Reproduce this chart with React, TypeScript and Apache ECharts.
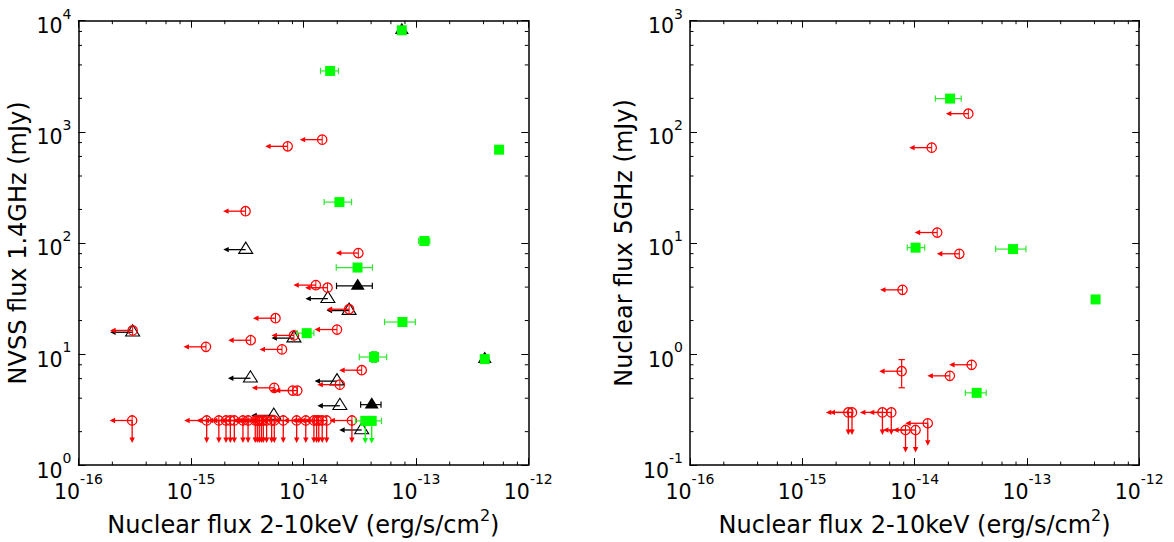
import React, { useEffect, useRef } from 'react';
import * as echarts from 'echarts';

// ---------------- Axis decades (tick labels are 10^exp) ----------------
const xDecadeExps = [-16, -15, -14, -13, -12];
const nvssDecadeExps = [0, 1, 2, 3, 4];
const c5DecadeExps = [-1, 0, 1, 2, 3];
const minorSteps = [2, 4, 6, 8];

// ---------------- Left panel: NVSS 1.4 GHz flux (mJy) ----------------
// green filled squares (detections)
const nvssSqX = [7.5e-14, 1.73e-14, 5.5e-13, 2.09e-14, 1.19e-13, 3.03e-14, 7.6e-14, 1.07e-14, 4.25e-14, 4.1e-13];
const nvssSqY = [8200, 3530, 690, 233, 104, 60, 19.4, 15.4, 9.4, 9.0];
const nvssSqXLo = [null, 1.42e-14, null, 1.53e-14, 1.06e-13, 1.96e-14, 5.27e-14, 8.8e-15, 3.14e-14, null];
const nvssSqXHi = [null, 2.05e-14, null, 2.68e-14, 1.33e-13, 4.11e-14, 9.9e-14, 1.24e-14, 5.5e-14, null];
const nvssSqYLo = [null, null, null, null, null, null, null, null, 8.4, null];
const nvssSqYHi = [null, null, null, null, null, null, null, null, 10.5, null];
// green squares, radio upper limits
const nvssSqUlX = [3.55e-14, 4.05e-14];
const nvssSqUlY = [2.5, 2.5];
const nvssSqUlXLo = [2.9e-14, 3.3e-14];
const nvssSqUlXHi = [4.3e-14, 4.95e-14];
// black filled triangles
const nvssTriX = [7.5e-14, 3.04e-14, 4.05e-14, 4.1e-13];
const nvssTriY = [8200, 41, 3.5, 9.0];
const nvssTriXLo = [null, 1.97e-14, 3.23e-14, null];
const nvssTriXHi = [null, 4.1e-14, 4.9e-14, null];
// black open triangles (X-ray upper limits)
const nvssOpenTriX = [3.07e-15, 1.65e-14, 2.55e-14, 3.03e-16, 8.24e-15, 3.38e-15, 1.99e-14, 2.11e-14, 5.45e-15, 3.3e-14];
const nvssOpenTriY = [87, 31.5, 24.6, 15.7, 13.9, 6.05, 5.7, 3.42, 2.8, 2.07];
// red open circles (X-ray upper limits)
const nvssCircX = [1.47e-14, 7.25e-15, 3.06e-15, 3.08e-14, 1.29e-14, 1.64e-14, 2.55e-14, 5.65e-15, 3.03e-16, 1.99e-14, 8.24e-15, 3.4e-15, 1.36e-15, 6.45e-15, 3.3e-14, 2.11e-14, 5.5e-15, 8.04e-15, 8.83e-15];
const nvssCircY = [850, 740, 193, 81, 41.7, 39.5, 25.3, 21, 16.3, 16.6, 14.7, 13.3, 11.6, 11.0, 7.15, 5.3, 4.96, 4.69, 4.69];
// red open circles (upper limits on both axes)
const nvssCircUlX = [3.0e-16, 1.38e-15, 1.77e-15, 2.05e-15, 2.24e-15, 2.43e-15, 2.9e-15, 3.22e-15, 3.73e-15, 3.89e-15, 4.05e-15, 4.23e-15, 4.4e-15, 4.71e-15, 5.22e-15, 5.51e-15, 6.62e-15, 8.71e-15, 1.05e-14, 1.24e-14, 1.31e-14, 1.37e-14, 1.47e-14, 1.61e-14, 2.7e-14];
const nvssCircUlY = [2.52, 2.52, 2.52, 2.52, 2.52, 2.52, 2.52, 2.52, 2.52, 2.52, 2.52, 2.52, 2.52, 2.52, 2.52, 2.52, 2.52, 2.52, 2.52, 2.52, 2.52, 2.52, 2.52, 2.52, 2.52];

// ---------------- Right panel: nuclear 5 GHz flux (mJy) ----------------
const c5SqX = [2.07e-14, 1.02e-14, 7.53e-14, 4.09e-13, 3.57e-14];
const c5SqY = [199, 9.06, 8.8, 3.1, 0.447];
const c5SqXLo = [1.53e-14, 8.6e-15, 5.27e-14, null, 2.83e-14];
const c5SqXHi = [2.6e-14, 1.23e-14, 9.8e-14, null, 4.34e-14];
const c5CircX = [3.01e-14, 1.42e-14, 1.59e-14, 2.5e-14, 7.8e-15, 3.22e-14, 7.67e-15, 2.06e-14];
const c5CircY = [145.6, 72, 12.4, 7.98, 3.78, 0.80, 0.70, 0.636];
const c5CircYLo = [null, null, null, null, null, null, 0.497, null];
const c5CircYHi = [null, null, null, null, null, null, 0.89, null];
const c5CircUlX = [2.57e-15, 2.77e-15, 5.17e-15, 6.2e-15, 1.31e-14, 8.3e-15, 1.02e-14];
const c5CircUlY = [0.298, 0.298, 0.298, 0.298, 0.238, 0.207, 0.207];

// ---------------- Styling ----------------
const FONT = 'DejaVu Sans';
const RED = '#ff0000';
const GREEN = '#00ff00';
const GREEN_ERR = '#2ee82e';
const BLACK = '#000000';
const ARROW = 22.5;
const HEAD = 5.5;
const HEAD_W = 2.7;
const CAP = 3.2;
const MAJOR = 7;
const MINOR = 3.5;
const SQ = 10;

type Marker = 'square' | 'circle' | 'triOpen' | 'triFilled';
interface MarkSpec { marker: Marker; color: string; errColor: string; left?: boolean; down?: boolean; }

function rows(xs: number[], ys: number[], xlo?: (number | null)[], xhi?: (number | null)[], ylo?: (number | null)[], yhi?: (number | null)[]) {
  return xs.map((x, i) => [
    x, ys[i],
    (xlo && xlo[i]) ?? x, (xhi && xhi[i]) ?? x,
    (ylo && ylo[i]) ?? ys[i], (yhi && yhi[i]) ?? ys[i],
  ]);
}

function seg(x1: number, y1: number, x2: number, y2: number, color: string, lw = 1.2) {
  return { type: 'line', shape: { x1, y1, x2, y2 }, style: { stroke: color, lineWidth: lw, fill: null } };
}

function makeRender(s: MarkSpec) {
  return (_p: any, api: any) => {
    const x = api.value(0), y = api.value(1);
    const c = api.coord([x, y]);
    const cx = c[0], cy = c[1];
    const ch: any[] = [];
    const xlo = api.value(2), xhi = api.value(3), ylo = api.value(4), yhi = api.value(5);
    if (xlo < xhi) {
      const a = api.coord([xlo, y])[0], b = api.coord([xhi, y])[0];
      ch.push(seg(a, cy, b, cy, s.errColor), seg(a, cy - CAP, a, cy + CAP, s.errColor), seg(b, cy - CAP, b, cy + CAP, s.errColor));
    }
    if (ylo < yhi) {
      const a = api.coord([x, ylo])[1], b = api.coord([x, yhi])[1];
      ch.push(seg(cx, a, cx, b, s.errColor), seg(cx - CAP, a, cx + CAP, a, s.errColor), seg(cx - CAP, b, cx + CAP, b, s.errColor));
    }
    if (s.left) {
      const tx = cx - ARROW;
      ch.push(seg(cx, cy, tx + HEAD - 0.5, cy, s.color, 1.3));
      ch.push({ type: 'polygon', shape: { points: [[tx, cy], [tx + HEAD, cy - HEAD_W], [tx + HEAD, cy + HEAD_W]] }, style: { fill: s.color } });
    }
    if (s.down) {
      const ty = cy + ARROW;
      ch.push(seg(cx, cy, cx, ty - HEAD + 0.5, s.color, 1.3));
      ch.push({ type: 'polygon', shape: { points: [[cx, ty], [cx - HEAD_W, ty - HEAD], [cx + HEAD_W, ty - HEAD]] }, style: { fill: s.color } });
    }
    if (s.marker === 'square') {
      ch.push({ type: 'rect', shape: { x: cx - SQ / 2, y: cy - SQ / 2, width: SQ, height: SQ }, style: { fill: s.color } });
    } else if (s.marker === 'circle') {
      ch.push({ type: 'circle', shape: { cx, cy, r: 4.7 }, style: { fill: null, stroke: s.color, lineWidth: 1.25 } });
      ch.push(seg(cx, cy - 4.7, cx, cy + 4.7, s.color, 1));
    } else {
      const pts = [[cx, cy - 7.5], [cx - 7, cy + 3.8], [cx + 7, cy + 3.8]];
      if (s.marker === 'triFilled') {
        ch.push({ type: 'polygon', shape: { points: pts }, style: { fill: s.color } });
      } else {
        ch.push({ type: 'polygon', shape: { points: pts }, style: { fill: null, stroke: s.color, lineWidth: 1.1 } });
      }
    }
    return { type: 'group', children: ch };
  };
}

function series(grid: number, data: number[][], spec: MarkSpec) {
  return {
    type: 'custom',
    coordinateSystem: 'cartesian2d',
    xAxisIndex: grid * 2,
    yAxisIndex: grid * 2,
    encode: { x: 0, y: 1 },
    data,
    renderItem: makeRender(spec),
    z: 3,
  };
}

function minorTickSeries(grid: number, xExps: number[], yExps: number[]) {
  const xMin = Math.pow(10, xExps[0]), xMax = Math.pow(10, xExps[xExps.length - 1]);
  const yMin = Math.pow(10, yExps[0]), yMax = Math.pow(10, yExps[yExps.length - 1]);
  const data: number[][] = [];
  xExps.slice(0, -1).forEach((e) => minorSteps.forEach((m) => data.push([m * Math.pow(10, e), yMin, 0])));
  yExps.slice(0, -1).forEach((e) => minorSteps.forEach((m) => data.push([xMin, m * Math.pow(10, e), 1])));
  return {
    type: 'custom',
    coordinateSystem: 'cartesian2d',
    xAxisIndex: grid * 2,
    yAxisIndex: grid * 2,
    encode: { x: 0, y: 1 },
    data,
    z: 2,
    silent: true,
    renderItem: (_p: any, api: any) => {
      const kind = api.value(2);
      const st = { stroke: BLACK, lineWidth: 1 };
      if (kind === 0) {
        const v = api.value(0);
        const b = api.coord([v, yMin]), t = api.coord([v, yMax]);
        return { type: 'group', children: [
          { type: 'line', shape: { x1: b[0], y1: b[1], x2: b[0], y2: b[1] - MINOR }, style: st },
          { type: 'line', shape: { x1: t[0], y1: t[1], x2: t[0], y2: t[1] + MINOR }, style: st },
        ] };
      }
      const v = api.value(1);
      const l = api.coord([xMin, v]), r = api.coord([xMax, v]);
      return { type: 'group', children: [
        { type: 'line', shape: { x1: l[0], y1: l[1], x2: l[0] + MINOR, y2: l[1] }, style: st },
        { type: 'line', shape: { x1: r[0], y1: r[1], x2: r[0] - MINOR, y2: r[1] }, style: st },
      ] };
    },
  };
}

const expFormatter = (v: number) => `{b|10}{s|${Math.round(Math.log10(v))}}`;
const tickRich = {
  b: { fontFamily: FONT, fontSize: 20.5, lineHeight: 30, verticalAlign: 'bottom', color: BLACK },
  s: { fontFamily: FONT, fontSize: 14, lineHeight: 22, verticalAlign: 'top', color: BLACK },
};
const lineStyle = { color: BLACK, width: 1.5 };

function xAxes(grid: number, exps: number[]) {
  const base = {
    gridIndex: grid, type: 'log', logBase: 10,
    min: Math.pow(10, exps[0]), max: Math.pow(10, exps[exps.length - 1]),
    splitLine: { show: false }, minorTick: { show: false }, minorSplitLine: { show: false },
    axisLine: { show: true, onZero: false, lineStyle },
    axisTick: { show: true, inside: true, length: MAJOR, lineStyle: { color: BLACK, width: 1 } },
  };
  return [
    {
      ...base, position: 'bottom',
      axisLabel: { formatter: expFormatter, rich: tickRich, margin: 7 },
      name: '{t|Nuclear flux 2-10keV (erg/s/cm}{s|2}{t|)}',
      nameLocation: 'middle', nameGap: 38,
      nameTextStyle: {
        rich: {
          t: { fontFamily: FONT, fontSize: 24, lineHeight: 30, verticalAlign: 'bottom', color: BLACK },
          s: { fontFamily: FONT, fontSize: 16, lineHeight: 14, verticalAlign: 'top', color: BLACK },
        },
      },
    },
    { ...base, position: 'top', axisLabel: { show: false } },
  ];
}

function yAxes(grid: number, exps: number[], name: string, gap: number) {
  const base = {
    gridIndex: grid, type: 'log', logBase: 10,
    min: Math.pow(10, exps[0]), max: Math.pow(10, exps[exps.length - 1]),
    splitLine: { show: false }, minorTick: { show: false }, minorSplitLine: { show: false },
    axisLine: { show: true, onZero: false, lineStyle },
    axisTick: { show: true, inside: true, length: MAJOR, lineStyle: { color: BLACK, width: 1 } },
  };
  return [
    {
      ...base, position: 'left',
      axisLabel: { formatter: expFormatter, rich: tickRich, margin: 7, padding: [2, 0, 0, 0] },
      name, nameLocation: 'middle', nameGap: gap, nameRotate: 90,
      nameTextStyle: { fontFamily: FONT, fontSize: 24, lineHeight: 30, color: BLACK },
    },
    { ...base, position: 'right', axisLabel: { show: false } },
  ];
}

export default function App() {
  const ref = useRef<HTMLDivElement>(null);
  useEffect(() => {
    if (!ref.current) return;
    const chart = echarts.init(ref.current, undefined, { renderer: 'svg' });
    const option: any = {
      animation: false,
      backgroundColor: '#ffffff',
      grid: [
        { left: 78.5, top: 20.7, width: 449.8, height: 449.3 },
        { left: 690, top: 20.7, width: 449.2, height: 449.3 },
      ],
      xAxis: [...xAxes(0, xDecadeExps), ...xAxes(1, xDecadeExps)],
      yAxis: [
        ...yAxes(0, nvssDecadeExps, 'NVSS flux 1.4GHz (mJy)', 42.5),
        ...yAxes(1, c5DecadeExps, 'Nuclear flux 5GHz (mJy)', 45),
      ],
      series: [
        minorTickSeries(0, xDecadeExps, nvssDecadeExps),
        minorTickSeries(1, xDecadeExps, c5DecadeExps),
        // left panel
        series(0, rows(nvssOpenTriX, nvssOpenTriY), { marker: 'triOpen', color: BLACK, errColor: BLACK, left: true }),
        series(0, rows(nvssTriX, nvssTriY, nvssTriXLo, nvssTriXHi), { marker: 'triFilled', color: BLACK, errColor: BLACK }),
        series(0, rows(nvssCircX, nvssCircY), { marker: 'circle', color: RED, errColor: RED, left: true }),
        series(0, rows(nvssCircUlX, nvssCircUlY), { marker: 'circle', color: RED, errColor: RED, left: true, down: true }),
        series(0, rows(nvssSqX, nvssSqY, nvssSqXLo, nvssSqXHi, nvssSqYLo, nvssSqYHi), { marker: 'square', color: GREEN, errColor: GREEN_ERR }),
        series(0, rows(nvssSqUlX, nvssSqUlY, nvssSqUlXLo, nvssSqUlXHi), { marker: 'square', color: GREEN, errColor: GREEN_ERR, down: true }),
        // right panel
        series(1, rows(c5CircX, c5CircY, undefined, undefined, c5CircYLo, c5CircYHi), { marker: 'circle', color: RED, errColor: RED, left: true }),
        series(1, rows(c5CircUlX, c5CircUlY), { marker: 'circle', color: RED, errColor: RED, left: true, down: true }),
        series(1, rows(c5SqX, c5SqY, c5SqXLo, c5SqXHi), { marker: 'square', color: GREEN, errColor: GREEN_ERR }),
      ],
    };
    chart.setOption(option);
    return () => chart.dispose();
  }, []);
  return <div ref={ref} style={{ position: 'absolute', left: 0, top: 0, width: 1174, height: 542, background: '#fff' }} />;
}
